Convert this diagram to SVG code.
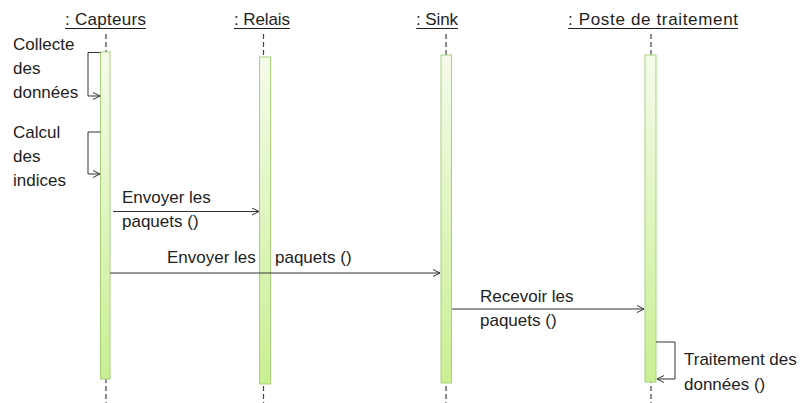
<svg xmlns="http://www.w3.org/2000/svg" width="807" height="403" viewBox="0 0 807 403">
  <defs>
    <linearGradient id="barFill" x1="0" y1="0" x2="0" y2="1">
      <stop offset="0" stop-color="#f5fbea"/>
      <stop offset="1" stop-color="#c9ef92"/>
    </linearGradient>
    <marker id="open" markerWidth="10" markerHeight="10" refX="8" refY="4" orient="auto" markerUnits="userSpaceOnUse">
      <path d="M1,0.5 L8,4 L1,7.5" fill="none" stroke="#333" stroke-width="1"/>
    </marker>
  </defs>
  <style>
    text { font-family: "Liberation Sans", Arial, sans-serif; font-size: 17px; fill: #1e1e1e; }
    .life { stroke: #444; stroke-width: 1.2; stroke-dasharray: 5 3; fill: none; }
    .bar { fill: url(#barFill); stroke: #a8d27a; stroke-width: 1; }
    .ul { stroke: #1e1e1e; stroke-width: 1; }
    .msg { stroke: #333; stroke-width: 1; fill: none; marker-end: url(#open); }
  </style>
  <rect width="807" height="403" fill="#ffffff"/>

  <!-- participants: header, lifeline and activation bar -->
  <g id="capteurs">
    <text x="65" y="25" textLength="81">: Capteurs</text>
    <line class="ul" x1="65" y1="28.5" x2="146" y2="28.5"/>
    <line class="life" x1="106" y1="34" x2="106" y2="403"/>
    <rect class="bar" x="100.5" y="52" width="9.5" height="327"/>
  </g>
  <g id="relais">
    <text x="234" y="25" textLength="56">: Relais</text>
    <line class="ul" x1="234" y1="28.5" x2="290" y2="28.5"/>
    <line class="life" x1="263.5" y1="34" x2="263.5" y2="403"/>
    <rect class="bar" x="259.5" y="57" width="11" height="327"/>
  </g>
  <g id="sink">
    <text x="416" y="25" textLength="42">: Sink</text>
    <line class="ul" x1="416" y1="28.5" x2="458" y2="28.5"/>
    <line class="life" x1="446" y1="34" x2="446" y2="403"/>
    <rect class="bar" x="441" y="55" width="10.5" height="328"/>
  </g>
  <g id="poste">
    <text x="568" y="25" textLength="170">: Poste de traitement</text>
    <line class="ul" x1="568" y1="28.5" x2="738" y2="28.5"/>
    <line class="life" x1="651" y1="34" x2="651" y2="403"/>
    <rect class="bar" x="645" y="55" width="11" height="327"/>
  </g>

  <!-- messages -->
  <g id="connectors">
    <path class="msg" d="M100.5,52.5 H88 V96 H100"/>
    <path class="msg" d="M100.5,132 H88 V174 H100"/>
    <line class="msg" x1="113" y1="211.5" x2="259" y2="211.5"/>
    <line class="msg" x1="110" y1="273" x2="440" y2="273"/>
    <line class="msg" x1="452" y1="309" x2="644" y2="309"/>
    <path class="msg" d="M656,342 H675 V379 H657"/>
  </g>

  <!-- message labels -->
  <g id="labels">
    <text x="13" y="50">Collecte</text>
    <text x="13" y="74">des</text>
    <text x="13" y="98">données</text>
    <text x="13" y="138">Calcul</text>
    <text x="13" y="162">des</text>
    <text x="13" y="186">indices</text>
    <text x="122" y="203">Envoyer les</text>
    <text x="122" y="227">paquets ()</text>
    <text x="167" y="263">Envoyer les</text>
    <text x="275" y="263">paquets ()</text>
    <text x="480" y="302">Recevoir les</text>
    <text x="480" y="326">paquets ()</text>
    <text x="684" y="365">Traitement des</text>
    <text x="684" y="390">données ()</text>
  </g>
</svg>
